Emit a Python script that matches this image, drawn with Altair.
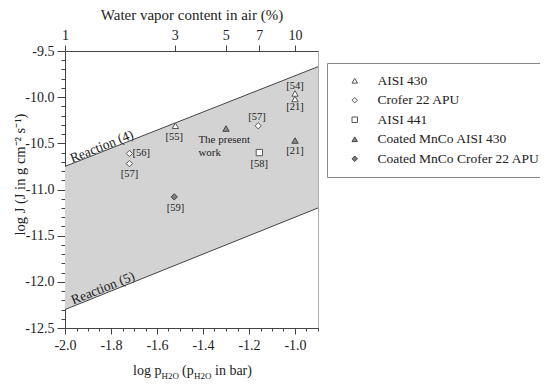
import altair as alt
import pandas as pd
import numpy as np

FONT = "Liberation Serif"

# ---- data ----
series_names = ["AISI 430", "Crofer 22 APU", "AISI 441",
                "Coated MnCo AISI 430", "Coated MnCo Crofer 22 APU"]
series_shapes = ["triangle-up", "diamond", "square", "triangle-up", "diamond"]
series_fills = ["white", "white", "white", "#8c8c8c", "#7d7d7d"]
series_strokes = ["#555555", "#555555", "#555555", "#444444", "#444444"]

pt_series = ["AISI 430", "AISI 430", "AISI 430",
             "Crofer 22 APU", "Crofer 22 APU", "Crofer 22 APU",
             "AISI 441",
             "Coated MnCo AISI 430", "Coated MnCo AISI 430",
             "Coated MnCo Crofer 22 APU"]
pt_x = [-1.52, -1.00, -1.00, -1.72, -1.72, -1.16, -1.155, -1.30, -1.00, -1.525]
pt_y = [-10.31, -9.96, -10.02, -10.61, -10.72, -10.31, -10.60, -10.34, -10.47, -11.08]

ref_text = ["[54]", "[21]", "[55]", "[56]", "[57]", "[57]", "[58]", "[21]", "[59]"]
ref_x = [-1.0, -1.0, -1.525, -1.668, -1.72, -1.165, -1.155, -1.0, -1.52]
ref_y = [-9.875, -10.11, -10.43, -10.61, -10.83, -10.21, -10.72, -10.58, -11.20]

work_text = ["The present", "work"]
work_x = [-1.42, -1.42]
work_y = [-10.46, -10.60]

band_x = [-2.0, -0.9]
reaction4_y = [-10.75, -9.67]
reaction5_y = [-12.30, -11.20]

reaction_text = ["Reaction (4)", "Reaction (5)"]
reaction_x = [-1.84, -1.835]
reaction_y = [-10.535, -12.07]

top_pct = [1, 3, 5, 7, 10]
top_ticks = [float(np.log10(p / 100.0)) for p in top_pct]
x_ticks = [round(-2.0 + 0.05 * i, 2) for i in range(23)]
y_ticks = [round(-12.5 + 0.1 * i, 1) for i in range(31)]

# ---- tables ----
pts = pd.DataFrame({"series": pt_series, "x": pt_x, "y": pt_y})
refs = pd.DataFrame({"t": ref_text, "x": ref_x, "y": ref_y})
work = pd.DataFrame({"t": work_text, "x": work_x, "y": work_y})
band = pd.DataFrame({"x": band_x, "r4": reaction4_y, "r5": reaction5_y})
reac = pd.DataFrame({"t": reaction_text, "x": reaction_x, "y": reaction_y})

XD = [-2.0, -0.9]
YD = [-12.5, -9.5]
xs = alt.Scale(domain=XD, nice=False, zero=False)
ys = alt.Scale(domain=YD, nice=False, zero=False)

major_x = "abs(datum.value*5 - round(datum.value*5)) < 0.001"
major_y = "abs(datum.value*2 - round(datum.value*2)) < 0.001"

x_axis = alt.Axis(orient="bottom", values=x_ticks, title=None,
                  labelExpr=f"{major_x} ? replace(format(datum.value, '.1f'), '\u2212', '-') : ''",
                  tickSize={"condition": {"test": major_x, "value": 6}, "value": 3},
                  labelPadding=4, labelOverlap=False, labelFlush=False, grid=False)
y_axis = alt.Axis(orient="left", values=y_ticks,
                  title="log J (J in g cm\u207b\u00b2 s\u207b\u00b9)",
                  labelExpr=f"{major_y} ? replace(format(datum.value, '.1f'), '\u2212', '-') : ''",
                  tickSize={"condition": {"test": major_y, "value": 8}, "value": 4},
                  labelPadding=3, labelOverlap=False, labelFlush=False, grid=False,
                  titleX=-45, titleY=123, titleAlign="center", titleBaseline="middle",
                  titleFontSize=14.5)
top_axis = alt.Axis(orient="top", values=top_ticks, title="Water vapor content in air (%)",
                    labelExpr="round(pow(10, datum.value + 2))", tickSize=6,
                    labelPadding=3, labelOverlap=False, labelFlush=False, grid=False,
                    titlePadding=6, titleFontSize=15)

area = alt.Chart(band).mark_area(color="#d3d3d3").encode(
    x=alt.X("x:Q", scale=xs, axis=x_axis),
    y=alt.Y("r4:Q", scale=ys, axis=y_axis),
    y2="r5:Q",
)
line4 = alt.Chart(band).mark_line(color="#444444", strokeWidth=1).encode(
    x=alt.X("x:Q", scale=xs, axis=None), y=alt.Y("r4:Q", scale=ys, axis=None))
line5 = alt.Chart(band).mark_line(color="#444444", strokeWidth=1).encode(
    x=alt.X("x:Q", scale=xs, axis=None), y=alt.Y("r5:Q", scale=ys, axis=None))
topax = alt.Chart(band).mark_point(opacity=0).encode(
    x=alt.X("x:Q", scale=xs, axis=top_axis), y=alt.Y("r4:Q", scale=ys, axis=None))

legend = alt.Legend(title=None, orient="none", legendX=262, legendY=12,
                    strokeColor="#8a8a8a", fillColor="white", padding=11,
                    labelFont=FONT, labelFontSize=13.5, labelColor="#222222",
                    symbolSize=30, symbolStrokeWidth=1, rowPadding=4.5,
                    symbolOffset=10, labelOffset=16, labelLimit=300)
points = alt.Chart(pts).mark_point(filled=True, size=40, strokeWidth=1, opacity=1).encode(
    x=alt.X("x:Q", scale=xs, axis=None),
    y=alt.Y("y:Q", scale=ys, axis=None),
    shape=alt.Shape("series:N", scale=alt.Scale(domain=series_names, range=series_shapes), legend=legend),
    fill=alt.Fill("series:N", scale=alt.Scale(domain=series_names, range=series_fills), legend=legend),
    stroke=alt.Stroke("series:N", scale=alt.Scale(domain=series_names, range=series_strokes), legend=legend),
)
ref_labels = alt.Chart(refs).mark_text(font=FONT, fontSize=10.5, color="#222222").encode(
    x=alt.X("x:Q", scale=xs, axis=None), y=alt.Y("y:Q", scale=ys, axis=None), text="t:N")
work_labels = alt.Chart(work).mark_text(font=FONT, fontSize=11, color="#222222", align="left").encode(
    x=alt.X("x:Q", scale=xs, axis=None), y=alt.Y("y:Q", scale=ys, axis=None), text="t:N")
reac_labels = alt.Chart(reac).mark_text(font=FONT, fontSize=13.5, color="#222222", angle=338).encode(
    x=alt.X("x:Q", scale=xs, axis=None), y=alt.Y("y:Q", scale=ys, axis=None), text="t:N")

# bottom x title, composed of pieces with subscripts
TY = 324
def piece(t, px, size, dy):
    return alt.Chart(pd.DataFrame({"t": [t]})).mark_text(
        font=FONT, fontSize=size, color="#222222", align="left", baseline="alphabetic"
    ).encode(x=alt.value(px), y=alt.value(TY + dy), text="t:N")

xt = [
    piece("log p", 68, 14, 0),
    piece("H2O", 96.5, 9, 3.5),
    piece("(p", 117, 14, 0),
    piece("H2O", 129, 9, 3.5),
    piece("in bar)", 150, 14, 0),
]

chart = alt.layer(area, line4, line5, topax, points, ref_labels, work_labels, reac_labels, *xt
).resolve_axis(x="independent", y="independent").resolve_scale(x="shared", y="shared").properties(
    width=253, height=277,
    autosize=alt.AutoSizeParams(type="none"),
    padding={"left": 57, "top": 43, "right": 222, "bottom": 53},
).configure_view(stroke="#b0b0b0", strokeWidth=1).configure_axis(
    domainColor="#444444", tickColor="#444444", labelColor="#222222", titleColor="#222222",
    labelFont=FONT, titleFont=FONT, labelFontSize=14, titleFontSize=15, titleFontWeight="normal",
    domainWidth=1, tickWidth=1,
)

chart.save("out.html", embed_options={"renderer": "svg", "actions": False})
